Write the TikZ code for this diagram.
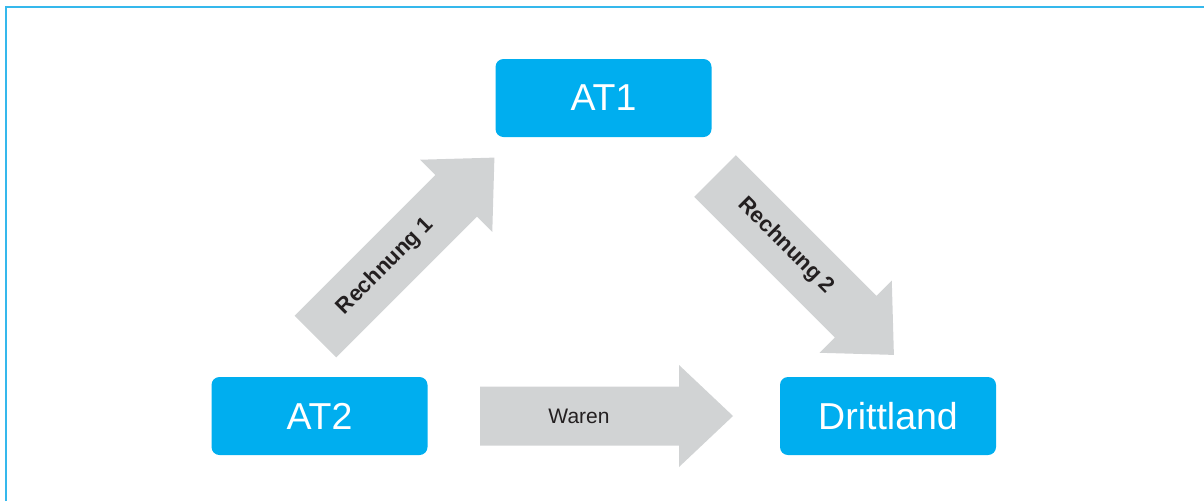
\documentclass[tikz,border=0pt]{standalone}
\usepackage{fontspec}
\setmainfont{Liberation Sans}
\definecolor{boxblue}{HTML}{00AEEF}
\definecolor{arrowgray}{HTML}{D1D3D4}
\definecolor{framecol}{HTML}{35B8EC}
\definecolor{lbltext}{HTML}{231F20}
\tikzset{
  blockarrow/.pic={\fill[arrowgray] (0,-29.5) -- (199,-29.5) -- (199,-51) -- (253,0) -- (199,51) -- (199,29.5) -- (0,29.5) -- cycle;},
}
\begin{document}
\begin{tikzpicture}[x=1pt,y=-1pt,
  box/.style={fill=boxblue, rounded corners=8pt, minimum width=216pt, minimum height=78pt, text=white, font=\fontsize{37.5}{40}\selectfont, inner sep=0pt},
  lbl/.style={font=\bfseries\fontsize{22}{24}\selectfont, text=lbltext, inner sep=0pt},
  plainlbl/.style={font=\fontsize{21}{24}\selectfont, text=lbltext, inner sep=0pt}
  ]
\useasboundingbox (0,0) rectangle (1204,501);
\draw[framecol, line width=1.5pt] (6,501) -- (6,7) -- (1204,7);

\node[box] (at1) at (603.5,98) {AT1};
\node[box] (at2) at (319.5,416) {AT2};
\node[box] (dritt) at (888,416) {Drittland};

\pic[rotate=45] at (315.5,336.5) {blockarrow};
\pic[rotate=-45] at (715,176) {blockarrow};
\pic at (480,416) {blockarrow};

\node[lbl, rotate=45] (r1) at (385.5,266.5) {Rechnung 1};
\node[lbl, rotate=-45] (r2) at (786,246) {Rechnung 2};
\node[plainlbl] (waren) at (579,416) {Waren};
\end{tikzpicture}
\end{document}
